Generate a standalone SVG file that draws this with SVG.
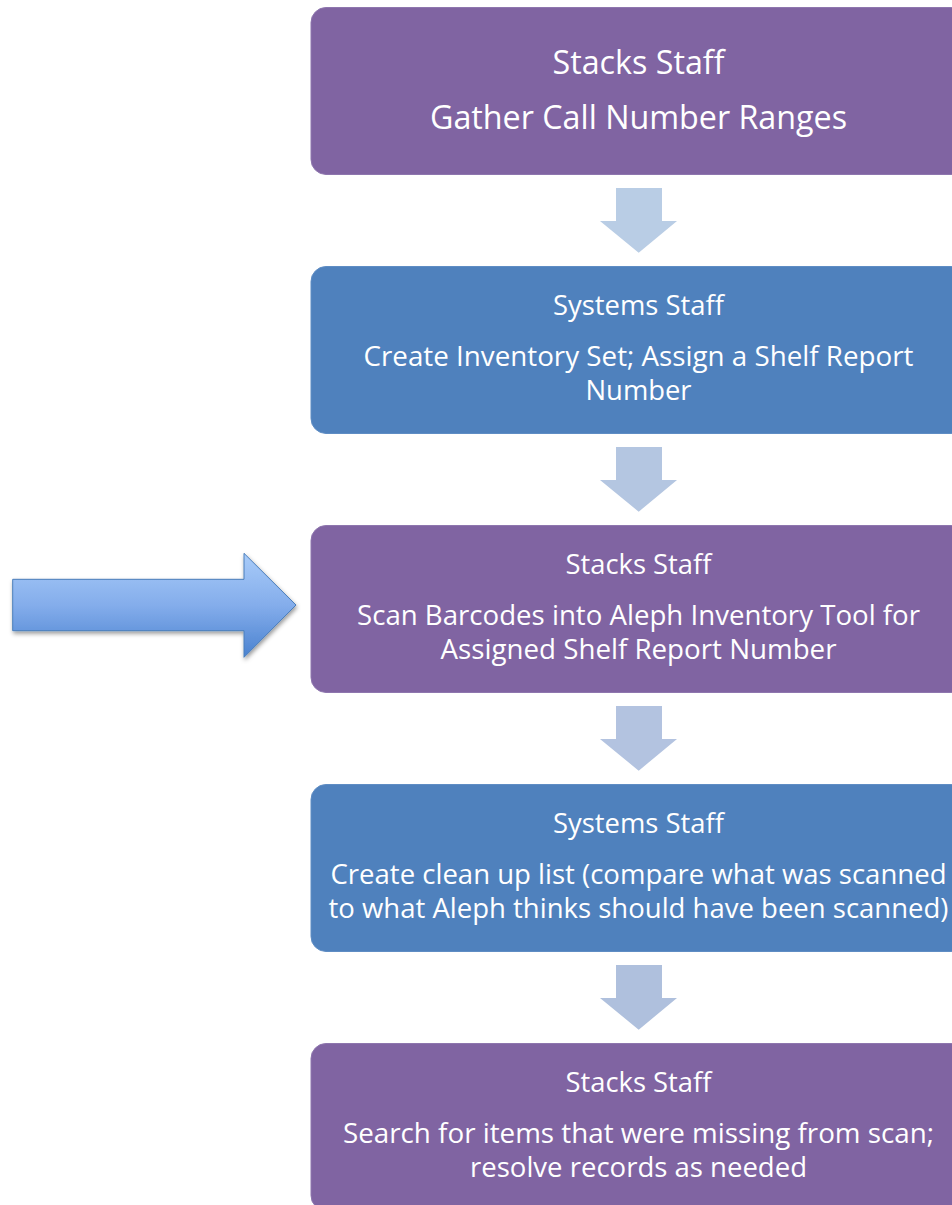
<svg xmlns="http://www.w3.org/2000/svg" width="952" height="1205" viewBox="0 0 952 1205">
<defs>
<style>
.box rect{stroke-width:1}
.purple{fill:#8064A2;stroke:#8E76AE}
.blue{fill:#4F81BD;stroke:#5F8DC4}
text{font-family:"Open Sans","Liberation Sans",sans-serif;fill:#FFFFFF;text-anchor:middle}
.t1{font-size:33.5px}
.t2{font-size:28px}
</style>
<linearGradient id="ga" x1="0" y1="0" x2="0" y2="1">
<stop offset="0" stop-color="#A9CCF9"/>
<stop offset="0.5" stop-color="#84ADEB"/>
<stop offset="1" stop-color="#4A82D0"/>
</linearGradient>
<filter id="sh" x="-10%" y="-20%" width="130%" height="150%">
<feDropShadow dx="1" dy="2.5" stdDeviation="2" flood-color="#000" flood-opacity="0.4"/>
</filter>
</defs>
<g id="connectors">
<path id="bigArrow" d="M12.7,579.3 L244,579.3 L244,553.3 L296,605 L244,657.3 L244,630.7 L12.7,630.7 Z" fill="url(#ga)" stroke="#4A7EBB" stroke-width="1" filter="url(#sh)"/>
<path d="M616,188 L662,188 L662,221 L677,221 L638.7,252.7 L600,221 L616,221 Z" fill="#B9CDE5"/>
<path d="M616,447 L662,447 L662,480 L677,480 L638.7,511.7 L600,480 L616,480 Z" fill="#B4C6E1"/>
<path d="M616,706 L662,706 L662,739 L677,739 L638.7,770.7 L600,739 L616,739 Z" fill="#B3C3E0"/>
<path d="M616,965 L662,965 L662,998 L677,998 L638.7,1029.7 L600,998 L616,998 Z" fill="#AFC0DD"/>
</g>
<g id="node1" class="box">
<rect class="purple" x="311" y="7.5" width="655" height="167" rx="15"/>
<text class="t1" x="638.5" y="74" textLength="172" lengthAdjust="spacingAndGlyphs">Stacks Staff</text>
<text class="t1" x="638.5" y="128.5" textLength="417" lengthAdjust="spacingAndGlyphs">Gather Call Number Ranges</text>
</g>
<g id="node2" class="box">
<rect class="blue" x="311" y="266.5" width="655" height="167" rx="15"/>
<text class="t2" x="638.5" y="315" textLength="171" lengthAdjust="spacingAndGlyphs">Systems Staff</text>
<text class="t2" x="638.5" y="366" textLength="550" lengthAdjust="spacingAndGlyphs">Create Inventory Set; Assign a Shelf Report</text>
<text class="t2" x="638.5" y="399.5" textLength="106" lengthAdjust="spacingAndGlyphs">Number</text>
</g>
<g id="node3" class="box">
<rect class="purple" x="311" y="525.5" width="655" height="167" rx="15"/>
<text class="t2" x="638.5" y="574" textLength="146" lengthAdjust="spacingAndGlyphs">Stacks Staff</text>
<text class="t2" x="638.5" y="625" textLength="563" lengthAdjust="spacingAndGlyphs">Scan Barcodes into Aleph Inventory Tool for</text>
<text class="t2" x="638.5" y="658.5" textLength="396" lengthAdjust="spacingAndGlyphs">Assigned Shelf Report Number</text>
</g>
<g id="node4" class="box">
<rect class="blue" x="311" y="784.5" width="655" height="167" rx="15"/>
<text class="t2" x="638.5" y="833" textLength="171" lengthAdjust="spacingAndGlyphs">Systems Staff</text>
<text class="t2" x="638.5" y="884" textLength="616" lengthAdjust="spacingAndGlyphs">Create clean up list (compare what was scanned</text>
<text class="t2" x="638.5" y="917.5" textLength="620" lengthAdjust="spacingAndGlyphs">to what Aleph thinks should have been scanned)</text>
</g>
<g id="node5" class="box">
<rect class="purple" x="311" y="1043.5" width="655" height="167" rx="15"/>
<text class="t2" x="638.5" y="1092" textLength="146" lengthAdjust="spacingAndGlyphs">Stacks Staff</text>
<text class="t2" x="638.5" y="1143" textLength="591" lengthAdjust="spacingAndGlyphs">Search for items that were missing from scan;</text>
<text class="t2" x="638.5" y="1176.5" textLength="337" lengthAdjust="spacingAndGlyphs">resolve records as needed</text>
</g>
</svg>
